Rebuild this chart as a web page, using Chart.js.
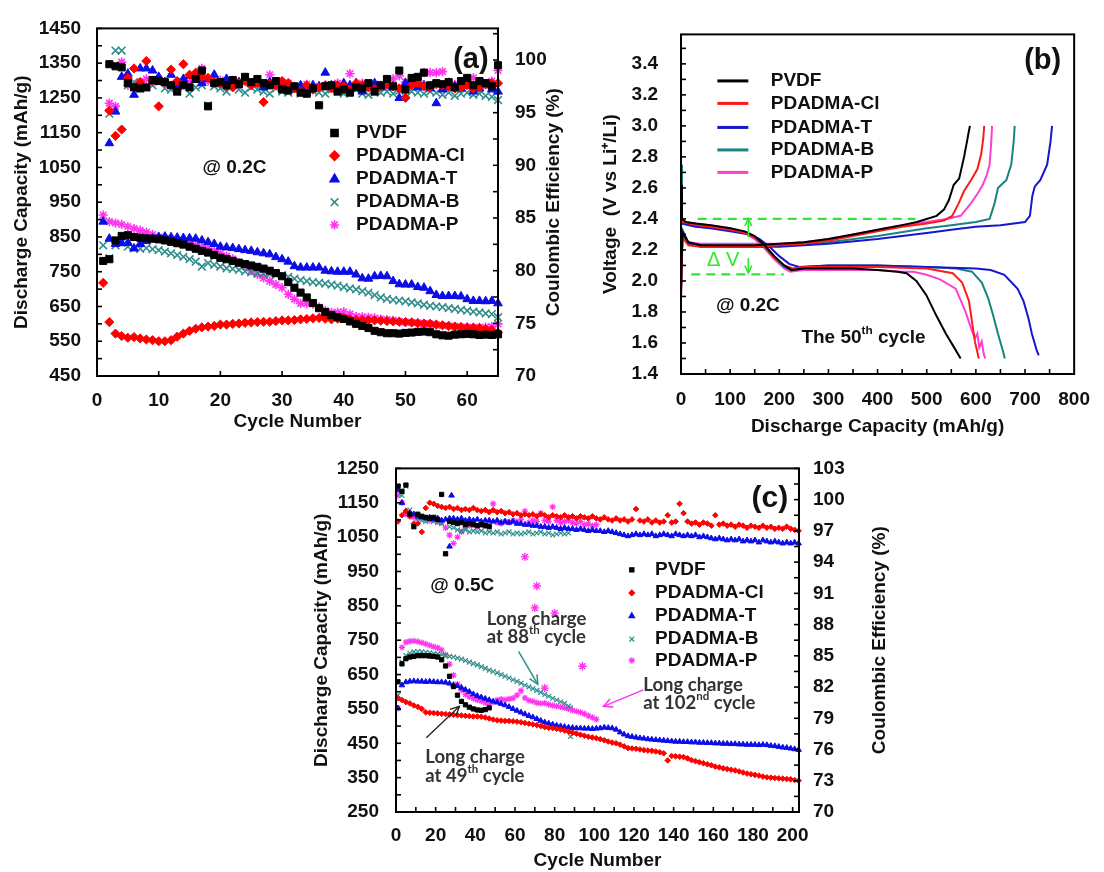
<!DOCTYPE html>
<html><head><meta charset="utf-8">
<script src="https://cdn.jsdelivr.net/npm/chart.js@4.4.1/dist/chart.umd.min.js"></script>
<style>
html,body{margin:0;padding:0;background:#fff;width:1104px;height:872px;overflow:hidden}
canvas{position:absolute}
</style></head><body>
<canvas id="ca" width="570" height="440" style="left:0;top:0"></canvas>
<canvas id="cb" width="534" height="440" style="left:570px;top:0"></canvas>
<canvas id="cc" width="600" height="432" style="left:300px;top:440px"></canvas>
<script>
// ---------------- DATA ----------------
const seriesNames = ['PVDF', 'PDADMA-Cl', 'PDADMA-T', 'PDADMA-B', 'PDADMA-P'];

// Panel (a): cycling at 0.2C, capacity (cycles 1..65) and coulombic efficiency (cycles 2..65)
const aCapPVDF = [781,786,840,853,855,850,848,846,845,843,840,836,832,828,822,816,810,805,798,790,786,781,776,772,768,764,759,753,746,737,720,704,690,676,660,645,634,625,619,614,607,600,594,588,580,576,573,573,572,574,575,577,578,576,570,567,566,569,570,571,570,568,569,568,570];
const aCapCl = [718,605,572,565,560,562,558,555,553,550,550,553,563,572,580,586,590,592,594,598,598,600,601,603,604,605,606,606,608,610,610,611,613,614,616,617,615,613,615,617,613,611,611,610,610,609,608,607,606,605,604,602,601,600,598,596,594,592,591,590,589,588,585,582,575];
const aCapT = [894,845,830,832,833,817,830,838,845,850,851,849,848,847,846,845,840,835,830,822,820,818,815,812,810,806,803,800,792,786,779,766,762,762,762,762,753,751,750,750,750,742,731,730,737,738,737,723,714,713,713,706,704,694,683,680,680,680,679,671,666,666,665,666,659];
const aCapB = [826,789,826,834,822,817,816,818,815,812,808,803,798,793,786,779,765,775,770,765,760,758,755,751,748,746,744,743,741,740,735,730,726,723,720,718,716,713,710,706,702,699,694,690,683,676,672,669,667,665,662,659,655,652,650,648,645,643,640,638,635,633,630,628,619];
const aCapP = [913,894,890,886,880,874,869,864,857,850,846,843,840,836,831,826,821,817,810,803,795,787,776,765,753,742,732,723,713,704,685,671,659,658,657,648,638,633,633,635,628,621,620,619,617,614,612,610,607,605,604,603,601,600,597,595,594,593,591,590,590,590,591,592,600];
const aCEPVDF = [99.6,99.4,99.3,97.8,97.4,97.3,97.4,98.1,98.0, 97.9,97.6,97.0,97.6,97.4,98.2,99.0,95.6,97.8,97.9, 97.6,98.1,97.7,98.4,97.9,98.2,97.8,97.6,98.0,97.2, 97.1,97.5,96.9,96.8,97.3,95.7,97.5,97.6,97.0,97.2, 96.9,97.4,97.3,97.8,97.0,97.6,98.2,97.5,99.0,97.2, 98.3,98.4,98.8,97.6,97.8,97.7,97.9,97.4,98.0,98.3, 97.6,98.0,97.8,97.5,99.5];
const aCECl = [95.2,92.8,93.4,98.3,99.2,97.9,99.9,98.0,95.6, 97.9,99.1,98.0,99.6,98.6,98.8,98.4,98.3,97.9,97.8, 97.5,97.4,97.8,98.0,97.6,97.8,96.0,97.7,97.6,98.0, 97.8,97.3,97.0,97.6,97.2,97.4,97.6,97.3,97.6,97.5, 97.2,97.8,97.6,97.4,97.2,97.5,97.7,97.5,97.3,96.4, 97.6,97.8,97.5,97.4,97.7,97.6,97.5,97.3,97.4,97.6, 97.3,97.4,97.7,97.8,97.8];
const aCET = [92.1,95.1,98.4,98.7,96.7,99.2,99.2,99.0,98.4, 97.9,98.6,97.4,98.2,98.5,98.1,97.8,98.2,98.6,97.8, 98.2,97.6,97.9,98.0,97.7,97.8,97.4,97.9,97.6,97.8, 97.4,97.2,97.6,97.3,97.6,97.5,98.8,97.6,97.2,97.8, 97.6,97.8,97.0,97.6,97.8,97.4,97.6,97.5,96.4,97.8, 98.0,97.4,97.6,97.3,95.9,97.2,97.4,97.5,97.3,97.6, 97.0,97.3,97.6,97.2,97.0];
const aCEB = [94.9,100.9,100.9,97.6,97.9,97.3,97.4,97.6,98.0, 97.3,97.2,97.0,97.6,96.8,97.4,97.6,95.7,97.5,97.3, 97.0,97.6,97.2,96.9,97.4,97.2,97.0,96.8,97.3,97.0, 96.9,97.2,96.8,97.0,97.1,96.9,96.8,97.2,97.0,96.8, 97.0,97.2,96.8,96.7,97.0,96.9,97.0,96.8,97.1,96.8, 97.0,96.9,96.8,97.0,96.9,96.7,96.9,96.6,96.8,96.9, 96.7,96.8,96.6,96.5,96.2];
const aCEP = [95.9,95.6,99.8,97.6,97.6,97.9,98.2,97.9,98.2, 97.9,97.6,97.8,98.0,97.9,98.4,99.2,98.0,97.9,98.1, 97.8,97.6,97.9,98.2,97.8,97.9,97.6,98.6,97.8,97.6, 97.8,97.5,97.4,97.7,97.3,97.5,97.6,97.4,97.8,97.5, 98.7,97.6,97.8,97.4,97.7,97.6,97.5,98.2,98.5,97.9, 97.6,98.0,98.8,98.8,98.8,98.9,97.9,97.7,97.6,97.9, 98.3,97.9,97.7,98.0,99.0];

// Panel (b): 50th cycle voltage profiles (capacity mAh/g, voltage V)
const bDisCapPVDF = [0,2,10,30,60,100,130,150,170,190,210,225,250,300,350,400,440,459,479,499,519,539,556,569];
const bDisVPVDF   = [2.62,2.40,2.38,2.37,2.36,2.34,2.32,2.29,2.23,2.16,2.10,2.07,2.08,2.08,2.08,2.07,2.06,2.05,2.00,1.91,1.78,1.66,1.57,1.50];
const bDisCapCl = [0,2,30,60,100,130,150,170,190,210,228,250,300,400,500,553,572,586,592,598,606];
const bDisVCl   = [2.55,2.38,2.36,2.35,2.33,2.31,2.28,2.22,2.15,2.10,2.08,2.09,2.09,2.09,2.08,2.05,1.99,1.87,1.74,1.61,1.50];
const bDisCapT = [0,2,30,60,100,140,160,180,200,220,240,300,400,500,600,630,658,685,697,707,714,724,728];
const bDisVT   = [2.60,2.37,2.35,2.34,2.32,2.30,2.27,2.22,2.16,2.11,2.09,2.10,2.10,2.09,2.08,2.07,2.04,1.95,1.87,1.76,1.66,1.55,1.52];
const bDisCapB = [0,2,30,60,100,130,150,170,190,210,225,250,300,400,500,560,592,612,625,635,645,655,659];
const bDisVB   = [2.75,2.37,2.36,2.35,2.33,2.31,2.28,2.22,2.15,2.09,2.07,2.09,2.10,2.10,2.09,2.08,2.06,1.99,1.89,1.78,1.66,1.55,1.50];
const bDisCapP = [0,2,30,60,100,130,150,170,190,210,222,250,300,400,450,473,500,527,559,579,592,598,603,607,612,616,619];
const bDisVP   = [2.70,2.38,2.37,2.36,2.34,2.31,2.27,2.21,2.14,2.08,2.06,2.07,2.07,2.07,2.06,2.06,2.04,2.01,1.95,1.80,1.68,1.63,1.66,1.57,1.61,1.53,1.50];
const bChCapPVDF = [0,3,15,40,100,150,200,250,300,350,400,450,480,500,520,535,545,555,566,576,582,586,588];
const bChVPVDF   = [1.95,2.31,2.25,2.23,2.23,2.23,2.24,2.25,2.27,2.30,2.33,2.36,2.38,2.40,2.42,2.46,2.52,2.62,2.66,2.80,2.90,2.97,3.00];
const bChCapCl = [0,3,15,40,100,150,200,250,300,350,400,450,500,535,552,565,576,590,603,611,615,617];
const bChVCl   = [1.88,2.28,2.23,2.22,2.22,2.22,2.23,2.24,2.26,2.29,2.32,2.35,2.37,2.39,2.42,2.50,2.58,2.65,2.72,2.82,2.92,3.00];
const bChCapT = [0,3,15,40,100,150,200,250,300,400,450,500,550,600,650,700,710,715,720,731,745,752,755];
const bChVT   = [1.90,2.32,2.24,2.22,2.22,2.22,2.22,2.23,2.24,2.27,2.29,2.31,2.33,2.35,2.36,2.38,2.42,2.55,2.61,2.65,2.75,2.90,3.00];
const bChCapB = [0,3,15,40,100,150,200,250,300,400,500,550,600,628,638,645,655,662,672,677,679];
const bChVB   = [1.95,2.33,2.25,2.23,2.22,2.22,2.23,2.24,2.25,2.29,2.34,2.36,2.38,2.40,2.50,2.60,2.63,2.65,2.75,2.90,3.00];
const bChCapP = [0,3,15,40,100,150,200,250,300,350,400,450,500,540,569,590,605,614,622,628,631,633];
const bChVP   = [2.00,2.30,2.25,2.24,2.24,2.24,2.24,2.25,2.27,2.30,2.33,2.36,2.38,2.40,2.42,2.50,2.57,2.62,2.68,2.75,2.88,3.00];
// Delta-V guide lines (voltage level, from / to capacity)
const dvLevels = [2.40, 2.043];
const dvFrom = [34, 21];
const dvTo = [477, 209];

// Panel (c): cycling at 0.5C, odd cycles
const cCapPVDF = [629,681,696,701,703,705,705,705,704,703,701,693,675,645,615,590,572,562,555,550,547,546,548,553];
const cCapCl = [581,576,570,566,560,556,550,540,539,538, 537,536,535,534,533,532,531,530,529,528, 528,527,525,522,519,517,516,515,515,514, 513,511,509,507,505,503,500,497,495,494, 492,490,487,484,481,478,475,472,469,467, 465,462,459,455,452,450,446,441,436,435, 434,432,430,429,428,426,424,421,400,413, 412,411,410,406,401,398,395,392,389,386, 382,380,377,375,373,371,368,365,362,360, 358,356,353,351,350,349,348,347,346,345, 343,341];
const cCapT = [552,619,628,630,631,630,630,629,630,629, 628,628,627,624,620,617,612,606,600,593, 588,584,580,576,572,569,565,561,556,550, 545,540,535,530,526,521,516,511,508,505, 502,500,498,496,495,494,494,493,493,492, 493,494,496,495,494,490,482,476,471,469, 467,465,464,462,461,460,459,458,457,456, 455,455,454,454,453,453,452,452,451,451, 450,450,449,449,448,448,447,447,446,446, 446,445,446,445,443,442,440,438,437,435, 433,431];
const cCapB = [590,686,705,712,716,717,716,715,713,711, 710,708,705,703,701,698,695,691,686,682, 678,673,668,663,659,655,650,645,640,635, 630,625,619,614,609,604,598,592,587,581, 576,571,566,558];
const cCapBExtraCycles = [88, 88];
const cCapBExtra = [553, 470];
const cCapP = [552,729,744,747,748,746,743,739,735,731, 728,722,708,680,648,622,604,592,585,580, 576,573,568,564,570,576,578,577,579,581, 590,603,582,575,572,568,566,567,563,560, 558,556,553,550,546,543,540,536,530,525, 520];
const cCEPVDF = [101.3,100.8,101.4,98.6,97.4,98.6,98.4,98.3,98.2,98.3,98.1,100.5,94.8,97.9,97.8,97.7,97.8,97.6,97.7,97.6,97.5,97.6,97.5,97.4];
const cCECl = [97.9,98.5,98.9,98.4,97.7,97.7,96.9,99.2,99.7,99.6, 99.4,99.3,99.2,99.3,99.1,99.2,99.0,99.1,99.0,99.2, 99.0,98.9,99.0,98.8,99.0,98.8,98.9,98.7,98.8,98.6, 98.7,98.5,98.6,98.5,98.6,98.4,98.6,98.5,98.3,98.5, 98.4,98.3,98.5,98.3,98.4,98.2,98.4,98.3,98.2,98.4, 98.2,98.1,98.3,98.1,98.0,98.2,98.0,98.1,97.9,98.1, 99.1,98.0,97.9,98.1,97.8,98.0,97.8,97.9,98.5,97.8, 97.9,99.6,98.7,97.9,97.7,97.8,97.6,97.8,97.7,97.5, 98.5,97.6,97.7,97.5,97.6,97.4,97.6,97.5,97.3,97.5, 97.4,97.3,97.5,97.3,97.4,97.2,97.3,97.2,97.4,97.2, 97.1,97.0];
const cCET = [100.9,99.7,98.9,98.7,98.6,98.4,98.3,98.2,98.3,98.1, 98.2,98.0,98.1,98.2,98.2,98.1,98.2,98.0,98.1,98.0, 98.1,97.9,98.0,98.0,97.9,98.0,97.8,97.9,97.8,97.9, 97.7,97.7,97.6,97.6,97.5,97.5,97.4,97.4,97.3,97.4, 97.3,97.2,97.3,97.2,97.2,97.1,97.2,97.1,97.0,97.1, 97.0,97.0,96.9,97.0,96.9,96.8,96.7,96.6,96.5,96.6, 96.7,96.6,96.7,96.6,96.7,96.5,96.6,96.7,96.6,96.5, 96.7,96.6,96.5,96.6,96.5,96.6,96.4,96.5,96.4,96.3, 96.2,96.3,96.2,96.1,96.2,96.1,96.2,96.0,96.1,96.0, 96.1,95.9,96.1,96.0,95.9,96.0,95.9,95.8,95.9,95.8, 95.9,95.8];
const cCETExtraCycles = [27, 28];
const cCETExtra = [95.5, 100.4];
const cCEB = [101.3,100.4,101.3,99.0,97.4,98.2,98.0,97.9,98.1,97.9, 97.8,97.7,94.8,97.4,97.3,97.1,97.0,97.1,96.9,97.0, 96.9,97.0,96.8,96.9,96.8,96.9,96.7,96.8,96.9,96.7, 96.8,96.7,96.8,96.9,96.7,96.8,96.9,96.7,96.8,96.6, 96.7,96.8,96.7,96.8];
const cCEP = [100.4,99.7,98.6,98.4,98.3,98.2,98.3,98.1,98.0,98.1, 97.9,97.8,97.3,96.6,95.8,96.4,96.9,97.3,97.5,97.6, 97.4,97.6,97.5,97.7,99.6,97.8,97.7,97.9,97.8,98.0, 97.9,98.1,98.9,97.8,98.0,97.9,98.7,98.0,97.9,99.3, 98.0,97.8,97.9,98.0,97.8,97.7,97.9,97.6,97.7,97.5, 97.6];
const cCEPExtraCycles = [65, 70, 71, 75, 80, 94];
const cCEPExtra = [94.5, 89.6, 91.7, 81.9, 89.1, 84.0];

// ---------------- STYLE ----------------
const FAM = '"Liberation Sans", Arial, Helvetica, sans-serif';
Chart.defaults.font.family = FAM;
Chart.defaults.color = '#111';
const markerColors = ['#000000', '#ff0000', '#0c0ce8', '#2f8d8b', '#ff33f0'];
const lineColors = ['#000000', '#ff1a1a', '#1616cc', '#17857e', '#ff3fd2'];
const markerStyles = ['rect', 'rectRot', 'triangle', 'crossRot', 'star'];
const GREEN = '#2ee82e';

const seq = (a, b, s) => { const r = []; for (let i = 0; a + i * s <= b + 1e-9; i++) r.push(+(a + i * s).toFixed(4)); return r; };
const odd = n => seq(1, 2 * n - 1, 2);
const pts = (xs, ys) => ys.map((y, i) => ({x: xs[i], y}));
const fontStr = (f, k) => `${f.weight || 'normal'} ${Math.round(f.size * (k || 1) * 10) / 10}px ${f.family || FAM}`;

function drawParts(ctx, parts, x, y, f, color, align) {
  ctx.fillStyle = color; ctx.textBaseline = 'middle'; ctx.textAlign = 'left';
  let w = 0;
  parts.forEach(([s, sup]) => { ctx.font = fontStr(f, sup ? 0.62 : 1); w += ctx.measureText(s).width; });
  let cx = align === 'center' ? x - w / 2 : x;
  parts.forEach(([s, sup]) => {
    ctx.font = fontStr(f, sup ? 0.62 : 1);
    ctx.fillText(s, cx, sup ? y - f.size * 0.36 : y);
    cx += ctx.measureText(s).width;
  });
}

const deco = {
  id: 'deco',
  afterDatasetsDraw(chart, _a, o) {
    const ctx = chart.ctx, ca = chart.chartArea, S = chart.scales;
    const X = v => S.x.getPixelForValue(v), Y = v => S.y.getPixelForValue(v);
    ctx.save();
    ctx.lineWidth = 2; ctx.strokeStyle = '#000';
    ctx.strokeRect(ca.left, ca.top, ca.right - ca.left, ca.bottom - ca.top);
    ctx.lineWidth = 1.6;
    (o.ticks || []).forEach(t => {
      const sc = S[t.scale];
      t.values.forEach(v => {
        const p = sc.getPixelForValue(v);
        ctx.beginPath();
        if (t.side === 'left') { ctx.moveTo(ca.left, p); ctx.lineTo(ca.left + t.len, p); }
        else if (t.side === 'right') { ctx.moveTo(ca.right, p); ctx.lineTo(ca.right - t.len, p); }
        else { ctx.moveTo(p, ca.bottom); ctx.lineTo(p, ca.bottom - t.len); }
        ctx.stroke();
      });
    });
    (o.arrows || []).forEach(a => {
      const x1 = X(a.x1), y1 = Y(a.y1), x2 = X(a.x2), y2 = Y(a.y2);
      ctx.strokeStyle = a.color; ctx.lineWidth = a.width || 1.5;
      ctx.beginPath(); ctx.moveTo(x1, y1); ctx.lineTo(x2, y2); ctx.stroke();
      const ang = Math.atan2(y2 - y1, x2 - x1), L = a.head || 9, w = 0.45;
      ctx.beginPath();
      ctx.moveTo(x2 - L * Math.cos(ang - w), y2 - L * Math.sin(ang - w));
      ctx.lineTo(x2, y2);
      ctx.lineTo(x2 - L * Math.cos(ang + w), y2 - L * Math.sin(ang + w));
      ctx.stroke();
    });
    (o.texts || []).forEach(t => drawParts(ctx, t.parts, X(t.x), Y(t.y), t.font, t.color || '#111', t.align || 'left'));
    const lg = o.legend;
    if (lg) {
      lg.items.forEach((it, i) => {
        const yy = Y(lg.ys[i]);
        if (lg.line) {
          ctx.strokeStyle = it.color; ctx.lineWidth = 3;
          ctx.beginPath(); ctx.moveTo(X(lg.x1), yy); ctx.lineTo(X(lg.x2), yy); ctx.stroke();
        } else {
          ctx.fillStyle = it.color; ctx.strokeStyle = it.color; ctx.lineWidth = it.bw;
          Chart.helpers.drawPoint(ctx, {pointStyle: it.style, radius: it.r, borderWidth: it.bw, rotation: 0}, X(lg.mx), yy);
        }
        drawParts(ctx, [[it.label, 0]], X(lg.tx), yy, lg.font, '#111', 'left');
      });
    }
    if (o.rtitle) {
      ctx.save();
      ctx.translate(ca.right + o.rtitle.dx, (ca.top + ca.bottom) / 2);
      ctx.rotate(-Math.PI / 2);
      ctx.font = fontStr(o.rtitle.font); ctx.fillStyle = '#111';
      ctx.textAlign = 'center'; ctx.textBaseline = 'middle';
      ctx.fillText(o.rtitle.text, 0, 0);
      ctx.restore();
    }
    ctx.restore();
  }
};

const TICKF = {size: 19, weight: 'bold'};
function axis(min, max, step, pad, extra, dec) {
  return Object.assign({
    type: 'linear', min, max,
    ticks: {stepSize: step, includeBounds: false, autoSkip: false, maxRotation: 0, padding: pad, font: TICKF, color: '#111',
      callback: v => Number(v).toFixed(dec || 0)},
    grid: {display: false, drawTicks: false},
    border: {display: false}
  }, extra);
}
function markerSet(data, i, yAxisID, r, bw) {
  const st = markerStyles[i];
  return {data, yAxisID, pointStyle: st, pointRadius: r[i], pointHoverRadius: r[i],
    backgroundColor: markerColors[i], borderColor: markerColors[i],
    pointBorderWidth: (st === 'crossRot' || st === 'star') ? bw : 1, showLine: false, clip: false};
}
const baseOpts = {responsive: false, animation: false, devicePixelRatio: 1, events: [],
  plugins: {legend: {display: false}, tooltip: {enabled: false}}};
const LEGF = {size: 19, weight: 'bold'};

// ---------------- PANEL (a) ----------------
{
  const aCycles = seq(1, 65, 1);
  const aCycCE = seq(2, 65, 1);
  const caps = [aCapPVDF, aCapCl, aCapT, aCapB, aCapP];
  const ces = [aCEPVDF, aCECl, aCET, aCEB, aCEP];
  const r = [5, 4.6, 5, 5.4, 4.6];
  const ds = [];
  for (let i = 0; i < 5; i++) {
    ds.push(markerSet(pts(aCycles, caps[i]), i, 'y', r, 1.6));
    ds.push(markerSet(pts(aCycCE, ces[i]), i, 'y2', r, 1.6));
  }
  new Chart(document.getElementById('ca'), {
    type: 'scatter', data: {datasets: ds}, plugins: [deco],
    options: Object.assign({}, baseOpts, {
      layout: {padding: {top: 24, left: 0, right: 0, bottom: 0}},
      scales: {
        x: axis(0, 65, 10, 13, {title: {display: true, text: 'Cycle Number', font: {size: 19, weight: 'bold'}, color: '#111', padding: {top: 0, bottom: 7}}, afterFit: s => { s.height = 64; }}),
        y: axis(450, 1450, 100, 16, {position: 'left', title: {display: true, text: 'Discharge Capacity (mAh/g)', font: {size: 19, weight: 'bold'}, color: '#111', padding: {top: 10, bottom: 0}}, afterFit: s => { s.width = 97; }}),
        y2: axis(70, 103, 5, 17, {position: 'right', afterFit: s => { s.width = 72; }})
      },
      plugins: Object.assign({}, baseOpts.plugins, {deco: {
        ticks: [
          {scale: 'y', side: 'left', len: 5, values: seq(450, 1450, 50)},
          {scale: 'y2', side: 'right', len: 5, values: seq(70, 102.5, 2.5)},
          {scale: 'x', side: 'bottom', len: 5, values: seq(10, 60, 10)}
        ],
        texts: [
          {x: 60.6, y: 1359, parts: [['(a)', 0]], font: {size: 29, weight: 'bold'}, align: 'center'},
          {x: 17.1, y: 1049, parts: [['@ 0.2C', 0]], font: {size: 19, weight: 'bold'}}
        ],
        legend: {mx: 38.5, tx: 42.0, ys: [1149, 1083.5, 1016, 950, 884.6], font: LEGF,
          items: seriesNames.map((n, i) => ({label: n, style: markerStyles[i], color: markerColors[i], r: r[i], bw: 1.6}))},
        rtitle: {text: 'Coulombic Efficiency (%)', dx: 56, font: {size: 19, weight: 'bold'}}
      }})
    })
  });
}

// ---------------- PANEL (b) ----------------
{
  const dis = [[bDisCapPVDF, bDisVPVDF], [bDisCapCl, bDisVCl], [bDisCapT, bDisVT], [bDisCapB, bDisVB], [bDisCapP, bDisVP]];
  const ch = [[bChCapPVDF, bChVPVDF], [bChCapCl, bChVCl], [bChCapT, bChVT], [bChCapB, bChVB], [bChCapP, bChVP]];
  const ds = [];
  for (let i = 0; i < 5; i++) {
    [dis[i], ch[i]].forEach(([c, v]) => ds.push({data: pts(c, v), showLine: true, borderColor: lineColors[i], borderWidth: 2, pointRadius: 0, tension: 0, fill: false}));
  }
  for (let k = 0; k < dvLevels.length; k++) {
    ds.push({data: [{x: dvFrom[k], y: dvLevels[k]}, {x: dvTo[k], y: dvLevels[k]}], showLine: true, borderColor: GREEN, borderWidth: 2.2, borderDash: [9, 6], pointRadius: 0});
  }
  new Chart(document.getElementById('cb'), {
    type: 'scatter', data: {datasets: ds}, plugins: [deco],
    options: Object.assign({}, baseOpts, {
      layout: {padding: {top: 24, left: 0, right: 19, bottom: 0}},
      scales: {
        x: axis(0, 800, 100, 14, {title: {display: true, text: 'Discharge Capacity (mAh/g)', font: {size: 19, weight: 'bold'}, color: '#111', padding: {top: 0, bottom: 2}}, afterFit: s => { s.height = 66; }}),
        y: axis(1.4, 3.59, 0.2, 23, {position: 'left', title: {display: true, text: 'Voltage  (V vs Li\u207A/Li)', font: {size: 19, weight: 'bold'}, color: '#111', padding: {top: 29, bottom: 0}}, afterFit: s => { s.width = 111; }}, 1)
      },
      plugins: Object.assign({}, baseOpts.plugins, {deco: {
        ticks: [
          {scale: 'y', side: 'left', len: 5, values: seq(1.5, 3.5, 0.1)},
          {scale: 'x', side: 'bottom', len: 5, values: seq(50, 750, 50)}
        ],
        arrows: [
          {x1: 137, y1: 2.284, x2: 137, y2: 2.40, color: GREEN, width: 1.6, head: 8},
          {x1: 137, y1: 2.148, x2: 137, y2: 2.052, color: GREEN, width: 1.6, head: 8}
        ],
        texts: [
          {x: 736, y: 3.42, parts: [['(b)', 0]], font: {size: 29, weight: 'bold'}, align: 'center'},
          {x: 71, y: 1.84, parts: [['@ 0.2C', 0]], font: {size: 19, weight: 'bold'}},
          {x: 245, y: 1.634, parts: [['The 50', 0], ['th', 1], [' cycle', 0]], font: {size: 19, weight: 'bold'}},
          {x: 53, y: 2.135, parts: [['\u0394 V', 0]], font: {size: 20}, color: GREEN}
        ],
        legend: {line: true, x1: 74, x2: 137, tx: 182.6, ys: [3.29, 3.145, 2.99, 2.845, 2.70], font: LEGF,
          items: seriesNames.map((n, i) => ({label: n, color: lineColors[i]}))}
      }})
    })
  });
}

// ---------------- PANEL (c) ----------------
{
  const caps = [cCapPVDF, cCapCl, cCapT, cCapB, cCapP];
  const ces = [cCEPVDF, cCECl, cCET, cCEB, cCEP];
  const r = [3, 2.8, 3.2, 3.4, 3.2];
  const ds = [];
  for (let i = 0; i < 5; i++) {
    ds.push(markerSet(pts(odd(caps[i].length), caps[i]), i, 'y', r, 1.2));
    ds.push(markerSet(pts(odd(ces[i].length), ces[i]), i, 'y2', r, 1.2));
  }
  ds.push(markerSet(pts(cCapBExtraCycles, cCapBExtra), 3, 'y', r, 1.2));
  ds.push(markerSet(pts(cCETExtraCycles, cCETExtra), 2, 'y2', r, 1.2));
  ds.push(markerSet(pts(cCEPExtraCycles, cCEPExtra), 4, 'y2', [4.2, 4.2, 4.2, 4.2, 4.2], 1.4));
  const LC = {size: 18.5, weight: 'bold', family: 'Lato, sans-serif'};
  new Chart(document.getElementById('cc'), {
    type: 'scatter', data: {datasets: ds}, plugins: [deco],
    options: Object.assign({}, baseOpts, {
      layout: {padding: {top: 24, left: 0, right: 0, bottom: 0}},
      scales: {
        x: axis(0, 203.2, 20, 12, {title: {display: true, text: 'Cycle Number', font: {size: 19, weight: 'bold'}, color: '#111', padding: {top: 0, bottom: 0}}, afterFit: s => { s.height = 60; }}),
        y: axis(250, 1250, 100, 17, {position: 'left', title: {display: true, text: 'Discharge Capacity (mAh/g)', font: {size: 19, weight: 'bold'}, color: '#111', padding: {top: 10, bottom: 0}}, afterFit: s => { s.width = 96; }}),
        y2: axis(70, 103, 3, 14, {position: 'right', afterFit: s => { s.width = 101; }})
      },
      plugins: Object.assign({}, baseOpts.plugins, {deco: {
        ticks: [
          {scale: 'y', side: 'left', len: 5, values: seq(250, 1250, 50)},
          {scale: 'y2', side: 'right', len: 5, values: seq(70, 103, 1.5)},
          {scale: 'x', side: 'bottom', len: 5, values: seq(10, 200, 10)}
        ],
        arrows: [
          {x1: 61.8, y1: 717.5, x2: 71.5, y2: 621.6, color: '#2f8d8b', width: 1.5, head: 10},
          {x1: 124.7, y1: 605.5, x2: 104.6, y2: 557.5, color: '#ff33f0', width: 1.5, head: 10},
          {x1: 15.3, y1: 466, x2: 32, y2: 557.5, color: '#222', width: 1.3, head: 10}
        ],
        texts: [
          {x: 188.5, y: 1161, parts: [['(c)', 0]], font: {size: 30, weight: 'bold'}, align: 'center'},
          {x: 17.3, y: 907, parts: [['@ 0.5C', 0]], font: {size: 19, weight: 'bold'}},
          {x: 45.8, y: 811, parts: [['Long charge', 0]], font: LC, color: '#333'},
          {x: 45.8, y: 758.6, parts: [['at 88', 0], ['th', 1], [' cycle', 0]], font: LC, color: '#333'},
          {x: 124.7, y: 620, parts: [['Long charge', 0]], font: LC, color: '#333'},
          {x: 124.7, y: 567, parts: [['at 102', 0], ['nd', 1], [' cycle', 0]], font: LC, color: '#333'},
          {x: 14.8, y: 409, parts: [['Long charge', 0]], font: LC, color: '#333'},
          {x: 14.8, y: 356, parts: [['at 49', 0], ['th', 1], [' cycle', 0]], font: LC, color: '#333'}
        ],
        legend: {mx: 118.9, tx: 130.6, ys: [954.6, 887.6, 820.6, 753.3, 691], font: LEGF,
          items: seriesNames.map((n, i) => ({label: n, style: markerStyles[i], color: markerColors[i], r: r[i], bw: 1.2}))},
        rtitle: {text: 'Coulombic Efficiency (%)', dx: 81, font: {size: 19, weight: 'bold'}}
      }})
    })
  });
}
</script></body></html>
